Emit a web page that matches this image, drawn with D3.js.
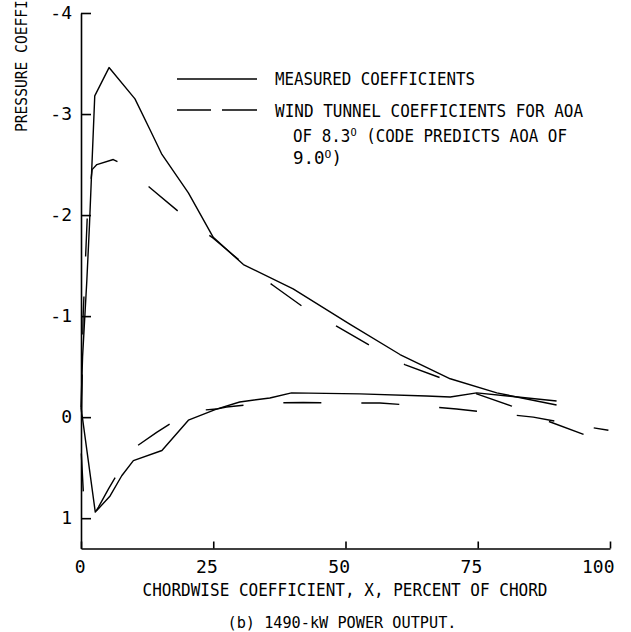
<!DOCTYPE html>
<html>
<head>
<meta charset="utf-8">
<script src="https://cdn.jsdelivr.net/npm/d3@7"></script>
<style>
body { margin: 0; background: #fff; }
svg { display: block; }
text { font-family: "DejaVu Sans Mono", "Liberation Mono", monospace; fill: #000; }
.axis path, .axis line { stroke: #000; stroke-width: 1.6; }
.axis text { font-size: 18px; }
.curve { fill: none; stroke: #000; stroke-width: 1.4; stroke-linejoin: round; }
</style>
</head>
<body>
<script>
// [x percent chord, Cp]
var measuredUpper = [[0,-0.1],[0.3,-0.6],[1.1,-1.35],[1.6,-1.9],[2.6,-3.18],[5.3,-3.46],[10.2,-3.15],[13.0,-2.85],[15.3,-2.6],[20.3,-2.22],[25.0,-1.78],[30.7,-1.51],[40.1,-1.27],[50.8,-0.92],[60.3,-0.62],[69.8,-0.38],[78.6,-0.24],[89.9,-0.12]];
var measuredLower = [[0,-0.1],[2.7,0.94],[5.5,0.78],[7.7,0.58],[9.9,0.43],[15.3,0.33],[20.3,0.03],[25.6,-0.08],[30,-0.15],[35.7,-0.19],[39.8,-0.24],[52.7,-0.23],[65.3,-0.21],[69.8,-0.20],[74.8,-0.24],[89.9,-0.16]];
var tunnelUpper = [[0,0.3],[0.4,-1.0],[1.2,-2.0],[2.1,-2.45],[3,-2.5],[6.1,-2.55],[8.0,-2.5],[13.5,-2.25],[19.0,-2.01],[25,-1.77],[30,-1.55],[36.4,-1.3],[42,-1.09],[48.3,-0.9],[54.6,-0.71],[61.2,-0.52],[67.9,-0.39],[74.8,-0.23],[81.4,-0.11],[88.3,0.04],[95,0.17]];
var tunnelLower = [[0,0.3],[0.5,0.8],[1,1.0],[2.5,0.96],[3.3,0.89],[5.2,0.71],[8.9,0.38],[10.2,0.3],[14.3,0.15],[20.6,-0.06],[25.6,-0.08],[27.5,-0.1],[35,-0.14],[42,-0.145],[49.3,-0.14],[56.5,-0.14],[64.7,-0.11],[71,-0.08],[78.3,-0.04],[85.5,0.0],[92.7,0.07],[99.7,0.13]];

var xTicks = [0,25,50,75,100];
var yTicks = [-4,-3,-2,-1,0,1];
var legendLabels = ["MEASURED COEFFICIENTS", "WIND TUNNEL COEFFICIENTS FOR AOA"];

var width = 631, height = 632;
var svg = d3.select("body").append("svg").attr("width",width).attr("height",height);

var x = d3.scaleLinear().domain([0,100]).range([81,610]);
var y = d3.scaleLinear().domain([-4,1.3]).range([13,548.5]);

var line = d3.line().x(function(d){ return x(d[0]); }).y(function(d){ return y(d[1]); });

// axes
var yAxis = svg.append("g").attr("class","axis")
    .attr("transform","translate("+x(0)+",0)")
    .call(d3.axisLeft(y).tickValues(yTicks).tickSize(-10).tickSizeOuter(0).tickPadding(9)
        .tickFormat(function(d){ return String(d); }));

var xAxis = svg.append("g").attr("class","axis")
    .attr("transform","translate(0,"+y(1.3)+")")
    .call(d3.axisBottom(x).tickValues(xTicks).tickSize(-7).tickSizeOuter(0));
xAxis.selectAll("text").attr("text-anchor","end").attr("x",4).attr("dy",null).attr("y",24);

// curves
svg.append("path").attr("class","curve").attr("d",line(measuredUpper));
svg.append("path").attr("class","curve").attr("d",line(measuredLower));
svg.append("path").attr("class","curve").attr("stroke-dasharray","38,40").attr("stroke-dashoffset",-35)
    .attr("d",line(tunnelUpper));
svg.append("path").attr("class","curve").attr("stroke-dasharray","38,40").attr("stroke-dashoffset",-6)
    .attr("d",line(tunnelLower));

// legend
svg.append("line").attr("class","curve").attr("x1",177).attr("x2",257).attr("y1",79).attr("y2",79);
svg.append("line").attr("class","curve").attr("stroke-dasharray","34,11,40")
    .attr("x1",177).attr("x2",257).attr("y1",110).attr("y2",110);

function label(xp, yp, len, size) {
    return svg.append("text").attr("x",xp).attr("y",yp)
        .attr("textLength",len).attr("lengthAdjust","spacingAndGlyphs")
        .style("font-size",size+"px");
}

label(275,85,200,17).text(legendLabels[0]);
label(275,117,308,17).text(legendLabels[1]);
var t2 = label(293,142,274,17);
t2.append("tspan").text("OF 8.3");
t2.append("tspan").attr("dy",-6).style("font-size","11px").text("O");
t2.append("tspan").attr("dy",6).text(" (CODE PREDICTS AOA OF");
var t3 = label(293,164,49,17);
t3.append("tspan").text("9.0");
t3.append("tspan").attr("dy",-6).style("font-size","11px").text("O");
t3.append("tspan").attr("dy",6).text(")");

// titles
svg.append("text").attr("transform","translate(27,132) rotate(-90)")
    .attr("textLength",211).attr("lengthAdjust","spacingAndGlyphs")
    .style("font-size","16.5px").text("PRESSURE COEFFICIENT, Cp");
label(345,596,405,17.5).attr("text-anchor","middle").text("CHORDWISE COEFFICIENT, X, PERCENT OF CHORD");
label(342,628,229,16.5).attr("text-anchor","middle").text("(b) 1490-kW POWER OUTPUT.");
</script>
</body>
</html>
